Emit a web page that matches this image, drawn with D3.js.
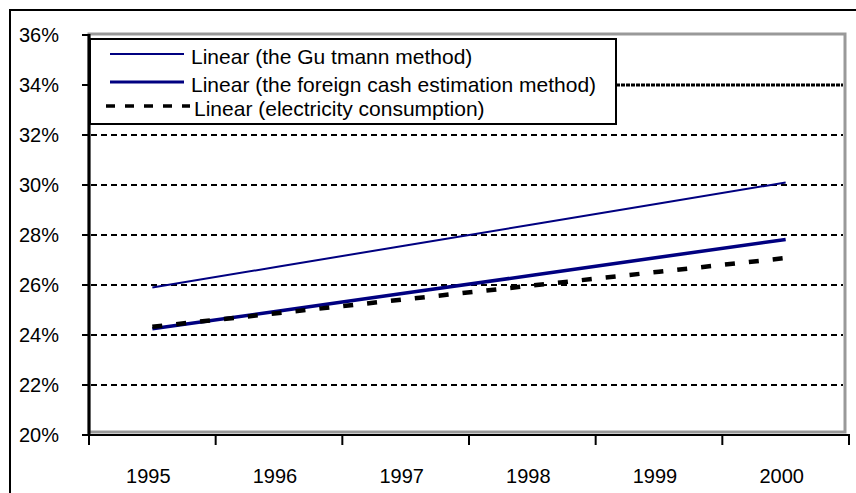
<!DOCTYPE html>
<html>
<head>
<meta charset="utf-8">
<script src="https://cdn.jsdelivr.net/npm/d3@7"></script>
<style>
  body { margin: 0; background: #fff; }
  text { font-family: "Liberation Sans", Arial, sans-serif; fill: #000; }
</style>
</head>
<body>
<svg width="856" height="493"></svg>
<script>
var years = ["1995", "1996", "1997", "1998", "1999", "2000"];
var yTicks = [20, 22, 24, 26, 28, 30, 32, 34, 36];
// trend values (%) at each year
var gutmann = [25.90, 26.74, 27.58, 28.42, 29.26, 30.10];
var foreignCash = [24.25, 24.96, 25.68, 26.39, 27.11, 27.82];
var electricity = [24.33, 24.88, 25.43, 25.98, 26.53, 27.08];
var legendLabels = ["Linear (the Gu tmann method)", "Linear (the foreign cash estimation method)", "Linear (electricity consumption)"];

var svg = d3.select("svg");

var x = d3.scaleBand().domain(years).range([89, 849]);
var y = d3.scaleLinear().domain([20, 36]).range([435, 35]);

// outer chart frame
svg.append("rect")
    .attr("x", 10).attr("y", 10)
    .attr("width", 860).attr("height", 500)
    .attr("fill", "#fff").attr("stroke", "#000").attr("stroke-width", 2);

// plot area border (grey)
svg.append("rect")
    .attr("x", 89).attr("y", 34)
    .attr("width", 756).attr("height", 398)
    .attr("fill", "#fff").attr("stroke", "#999").attr("stroke-width", 3);

// gridlines
svg.append("g")
    .selectAll("line")
    .data(yTicks.filter(function (d) { return d > 20 && d < 36; }))
    .enter()
    .append("line")
    .attr("x1", 91).attr("x2", 843)
    .attr("y1", function (d) { return y(d); })
    .attr("y2", function (d) { return y(d); })
    .attr("stroke", "#000")
    .attr("stroke-width", function (d) { return d == 34 ? 3 : 2; })
    .attr("stroke-dasharray", function (d) { return d == 34 ? "4,1" : "6,4"; });

// trend lines
var line = d3.line()
    .x(function (d, i) { return x(years[i]) + x.bandwidth() / 2; })
    .y(function (d) { return y(d); });

svg.append("path").datum(gutmann)
    .attr("d", line).attr("fill", "none")
    .attr("stroke", "#000080").attr("stroke-width", 2);

svg.append("path").datum(foreignCash)
    .attr("d", line).attr("fill", "none")
    .attr("stroke", "#000080").attr("stroke-width", 3.5);

svg.append("path").datum(electricity)
    .attr("d", line).attr("fill", "none")
    .attr("stroke", "#000").attr("stroke-width", 4.5)
    .attr("stroke-dasharray", "10,14");

// y axis
var yAxis = svg.append("g");
yAxis.append("line")
    .attr("x1", 89).attr("x2", 89).attr("y1", 34).attr("y2", 436)
    .attr("stroke", "#000").attr("stroke-width", 3);
yAxis.selectAll(".tick")
    .data(yTicks)
    .enter()
    .append("line")
    .attr("x1", 82).attr("x2", 89)
    .attr("y1", function (d) { return y(d); })
    .attr("y2", function (d) { return y(d); })
    .attr("stroke", "#000").attr("stroke-width", 2);
yAxis.selectAll("text")
    .data(yTicks)
    .enter()
    .append("text")
    .attr("x", 59)
    .attr("y", function (d) { return y(d); })
    .attr("dy", "0.36em")
    .attr("text-anchor", "end")
    .style("font-size", "20px")
    .text(function (d) { return d + "%"; });

// x axis
var xAxis = svg.append("g");
xAxis.append("line")
    .attr("x1", 88).attr("x2", 850).attr("y1", 435).attr("y2", 435)
    .attr("stroke", "#000").attr("stroke-width", 2);
xAxis.selectAll(".tick")
    .data(years.concat(["end"]))
    .enter()
    .append("line")
    .attr("x1", function (d, i) { return x.range()[0] + i * x.step(); })
    .attr("x2", function (d, i) { return x.range()[0] + i * x.step(); })
    .attr("y1", 435).attr("y2", 445)
    .attr("stroke", "#000").attr("stroke-width", 2);
xAxis.selectAll("text")
    .data(years)
    .enter()
    .append("text")
    .attr("x", function (d) { return x(d) + x.bandwidth() / 2 - 4; })
    .attr("y", 483)
    .attr("text-anchor", "middle")
    .style("font-size", "20px")
    .text(function (d) { return d; });

// legend
var legend = svg.append("g");
legend.append("rect")
    .attr("x", 90).attr("y", 39)
    .attr("width", 526).attr("height", 85)
    .attr("fill", "#fff").attr("stroke", "#000").attr("stroke-width", 2);

var legendY = [54, 82, 106];
var legendTextY = [64, 92, 116];
var legendStyles = [
    {stroke: "#000080", width: 2, dash: null, x1: 110, x2: 184},
    {stroke: "#000080", width: 3, dash: null, x1: 110, x2: 184},
    {stroke: "#000", width: 3.5, dash: "9,10", x1: 106, x2: 190}
];
legendLabels.forEach(function (label, i) {
    var s = legendStyles[i];
    legend.append("line")
        .attr("x1", s.x1).attr("x2", s.x2)
        .attr("y1", legendY[i]).attr("y2", legendY[i])
        .attr("stroke", s.stroke).attr("stroke-width", s.width)
        .attr("stroke-dasharray", s.dash);
    legend.append("text")
        .attr("x", i == 2 ? 194 : 191)
        .attr("y", legendTextY[i])
        .style("font-size", "21px")
        .text(label);
});
</script>
</body>
</html>
